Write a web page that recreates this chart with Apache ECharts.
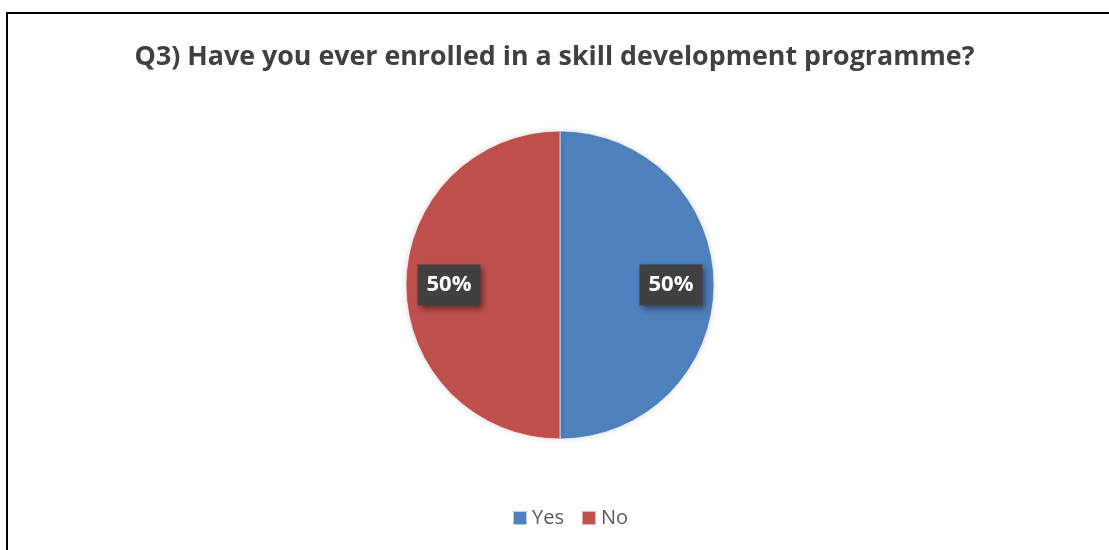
<!DOCTYPE html>
<html>
<head>
<meta charset="utf-8">
<script src="https://cdn.jsdelivr.net/npm/echarts@6/dist/echarts.min.js"></script>
<style>
  html, body { margin: 0; padding: 0; background: #fff; }
  #frame { position: absolute; left: 6px; top: 12px; width: 1200px; height: 600px; border: 2px solid #000; box-sizing: border-box; }
  #chart { position: absolute; left: 0; top: 0; width: 1109px; height: 550px; }
</style>
</head>
<body>
<div id="frame"></div>
<div id="chart"></div>
<script>
// Survey answers (share of respondents, %)
const categories = ['Yes', 'No'];
const values = [50, 50];
const colors = ['#4F81BD', '#C0504D'];
const titleText = 'Q3) Have you ever enrolled in a skill development programme?';

const pieData = categories.map((name, i) => ({ name, value: values[i], itemStyle: { color: colors[i] } }));

const chart = echarts.init(document.getElementById('chart'));
chart.setOption({
  animation: false,
  title: {
    text: titleText,
    left: 'center',
    top: 39,
    textStyle: { fontFamily: 'Open Sans', fontWeight: 'bold', fontSize: 26.8, color: '#404040' }
  },
  legend: {
    data: categories,
    bottom: 17,
    left: 507,
    itemWidth: 14,
    itemHeight: 14,
    itemGap: 17,
    icon: 'rect',
    textStyle: { fontFamily: 'Open Sans', fontSize: 20, color: '#595959' }
  },
  series: [
    {
      type: 'pie',
      center: [560, 285],
      radius: [0, 154],
      startAngle: 90,
      clockwise: true,
      silent: true,
      label: { show: false },
      labelLine: { show: false },
      itemStyle: { borderColor: 'rgba(255,255,255,0.6)', borderWidth: 1, shadowBlur: 6, shadowColor: 'rgba(0,0,0,0.15)' },
      data: pieData
    },
    {
      // transparent ring that places the value labels further out along each slice
      type: 'pie',
      center: [560, 285],
      radius: [62, 154],
      startAngle: 90,
      clockwise: true,
      silent: true,
      legendHoverLink: false,
      itemStyle: { color: 'rgba(0,0,0,0)' },
      label: {
        show: true,
        position: 'inside',
        formatter: p => p.value + '%',
        fontFamily: 'Open Sans',
        fontWeight: 'bold',
        fontSize: 22,
        color: '#ffffff',
        backgroundColor: '#404040',
        padding: [10, 9, 9, 9],
        shadowBlur: 6,
        shadowOffsetX: 3,
        shadowOffsetY: 3,
        shadowColor: 'rgba(0,0,0,0.45)'
      },
      labelLine: { show: false },
      data: categories.map((name, i) => ({ name: name, value: values[i] }))
    }
  ]
});
</script>
</body>
</html>
